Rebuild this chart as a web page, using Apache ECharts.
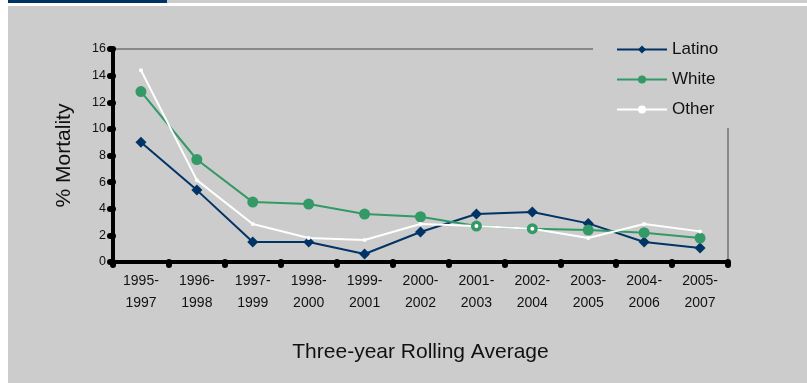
<!DOCTYPE html>
<html>
<head>
    <meta charset="utf-8" />
    <title>Mortality</title>
    <script src="https://cdn.jsdelivr.net/npm/echarts@6/dist/echarts.min.js"></script>
    <style>
        body { margin: 0; background: #fff; }
        #topbar { position: absolute; left: 8px; top: 0; width: 799px; height: 3px; background: #cccccc; }
        #topbar div { width: 159px; height: 3px; background: #003366; }
        #chart { position: absolute; left: 8px; top: 6px; width: 799px; height: 377px; background: #cccccc; }
    </style>
</head>
<body>
    <div id="topbar"><div></div></div>
    <div id="chart"></div>
    <script>
        // 数据
        var categories = ['1995-\n1997', '1996-\n1998', '1997-\n1999', '1998-\n2000', '1999-\n2001', '2000-\n2002',
            '2001-\n2003', '2002-\n2004', '2003-\n2005', '2004-\n2006', '2005-\n2007'];
        var latino = [9.0, 5.4, 1.5, 1.5, 0.6, 2.25, 3.6, 3.75, 2.9, 1.5, 1.05];
        var white = [12.8, 7.7, 4.5, 4.35, 3.6, 3.4, 2.7, 2.5, 2.4, 2.2, 1.8];
        var other = [14.4, 6.15, 2.85, 1.8, 1.65, 2.85, 2.7, 2.5, 1.8, 2.85, 2.3];

        var myChart = echarts.init(document.getElementById('chart'));
        var font = 'Liberation Sans, Arial, sans-serif';
        var option = {
            animation: false,
            textStyle: { fontFamily: font },
            grid: { left: 105, top: 43, width: 615, height: 213 },
            graphic: [
                { type: 'line', shape: { x1: 107, y1: 43, x2: 585, y2: 43 }, style: { stroke: '#888', lineWidth: 2 }, z: 0 },
                { type: 'line', shape: { x1: 720, y1: 122, x2: 720, y2: 256 }, style: { stroke: '#888', lineWidth: 2 }, z: 0 }
            ],
            legend: {
                left: 603, top: 30, orient: 'vertical', itemGap: 13, itemWidth: 50, itemHeight: 10,
                textStyle: { fontSize: 17, color: '#111', fontFamily: font },
                data: ['Latino', 'White', 'Other']
            },
            xAxis: {
                type: 'category', data: categories, boundaryGap: true,
                name: 'Three-year Rolling Average', nameLocation: 'middle', nameGap: 80,
                nameTextStyle: { fontSize: 21, color: '#111' },
                axisLine: { lineStyle: { color: '#000', width: 4 } },
                axisTick: { show: true, length: 3, lineStyle: { color: '#000', width: 6, cap: 'round' } },
                axisLabel: { fontSize: 14, color: '#111', lineHeight: 22, margin: 8 }
            },
            yAxis: {
                type: 'value', min: 0, max: 16, interval: 2,
                name: '% Mortality', nameLocation: 'middle', nameGap: 38,
                nameTextStyle: { fontSize: 21, color: '#111' },
                axisLine: { show: true, lineStyle: { color: '#000', width: 4 } },
                axisTick: { show: true, length: 3, lineStyle: { color: '#000', width: 6, cap: 'round' } },
                axisLabel: { fontSize: 12.5, color: '#111', margin: 7 },
                splitLine: { show: false }
            },
            series: [
                {
                    name: 'Latino', type: 'line', data: latino, symbol: 'diamond', symbolSize: 11,
                    itemStyle: { color: '#003366' }, lineStyle: { color: '#003366', width: 2 }
                },
                {
                    name: 'White', type: 'line', data: white, symbol: 'circle', symbolSize: 11,
                    itemStyle: { color: '#339966' }, lineStyle: { color: '#339966', width: 2 }
                },
                {
                    name: 'Other', type: 'line', data: other, symbol: 'circle', symbolSize: 4,
                    itemStyle: { color: '#ffffff' }, lineStyle: { color: '#ffffff', width: 2 }
                }
            ]
        };
        myChart.setOption(option);
    </script>
</body>
</html>
